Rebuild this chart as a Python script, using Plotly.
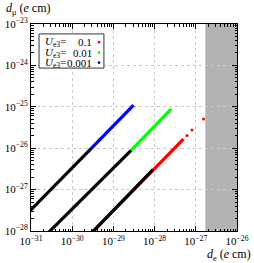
import plotly.graph_objects as go

# ---- data (log10 values) ----
# U_e3 = 0.001 (blue): black part then coloured part
blue_black_x = [10**-31.3, 10**-29.53]
blue_black_y = [10**-27.79, 10**-26.0]
blue_x = [10**-29.53, 10**-28.51]
blue_y = [10**-26.0, 10**-24.96]

# U_e3 = 0.01 (green)
green_black_x = [10**-30.7, 10**-28.57]
green_black_y = [10**-28.16, 10**-26.05]
green_x = [10**-28.57, 10**-27.595]
green_y = [10**-26.05, 10**-25.05]

# U_e3 = 0.1 (red)
red_x = [10**-29.7, 10**-27.30]
red_y = [10**-28.22, 10**-25.78]
red_black_x = [10**-29.7, 10**-28.04]
red_black_y = [10**-28.22, 10**-26.52]
red_dots_x = [10**-27.214, 10**-27.092, 10**-26.813]
red_dots_y = [10**-25.693, 10**-25.560, 10**-25.295]

DE_BOUND = 10**-26.77   # excluded region (shaded)
X_MAX = 1e-26

x_ticks = [1e-31, 1e-30, 1e-29, 1e-28, 1e-27, 1e-26]
x_tick_text = ["10<sup>−31</sup>", "10<sup>−30</sup>", "10<sup>−29</sup>",
               "10<sup>−28</sup>", "10<sup>−27</sup>", "10<sup>−26</sup>"]
y_ticks = [1e-28, 1e-27, 1e-26, 1e-25, 1e-24, 1e-23]
y_tick_text = ["10<sup>−28</sup>", "10<sup>−27</sup>", "10<sup>−26</sup>",
               "10<sup>−25</sup>", "10<sup>−24</sup>", "10<sup>−23</sup>"]

legend_labels = ["0.1", "0.01", "0.001"]
legend_colors = ["#ff0000", "#00ff00", "#0000ff"]

FONT = "Liberation Serif"
LW = 3.2

fig = go.Figure()

fig.add_trace(go.Scatter(x=red_x, y=red_y, mode="lines",
                         line=dict(color="#ff0000", width=LW), showlegend=False))
fig.add_trace(go.Scatter(x=red_black_x, y=red_black_y, mode="lines",
                         line=dict(color="black", width=LW), showlegend=False))
fig.add_trace(go.Scatter(x=red_dots_x, y=red_dots_y, mode="markers",
                         marker=dict(color="#ff0000", size=3), showlegend=False))
fig.add_trace(go.Scatter(x=green_black_x, y=green_black_y, mode="lines",
                         line=dict(color="black", width=LW), showlegend=False))
fig.add_trace(go.Scatter(x=green_x, y=green_y, mode="lines",
                         line=dict(color="#00ff00", width=LW), showlegend=False))
fig.add_trace(go.Scatter(x=blue_black_x, y=blue_black_y, mode="lines",
                         line=dict(color="black", width=LW), showlegend=False))
fig.add_trace(go.Scatter(x=blue_x, y=blue_y, mode="lines",
                         line=dict(color="#0000ff", width=LW), showlegend=False))

# shaded excluded region
fig.add_shape(type="rect", xref="x", yref="paper", x0=DE_BOUND, x1=X_MAX, y0=0, y1=1,
              fillcolor="#b3b3b3", line=dict(width=0), layer="below")

# manual legend (markers on the right of the text)
fig.add_shape(type="rect", xref="paper", yref="paper", x0=0.039, x1=0.354, y0=0.787, y1=0.952,
              fillcolor="white", line=dict(color="#333333", width=1))
row_y = [0.912, 0.862, 0.813]
for lab, col, yy in zip(legend_labels, legend_colors, row_y):
    fig.add_annotation(xref="paper", yref="paper", x=0.056, y=yy, xanchor="left", yanchor="middle",
                       text="<i>U</i><sub>e3</sub>=", showarrow=False,
                       font=dict(family=FONT, size=11, color="black"))
    fig.add_annotation(xref="paper", yref="paper", x=0.304, y=yy, xanchor="right", yanchor="middle",
                       text=lab, showarrow=False, font=dict(family=FONT, size=11, color="black"))
    fig.add_shape(type="circle", xref="paper", yref="paper",
                  x0=0.330 - 0.0065, x1=0.330 + 0.0065, y0=yy - 0.0065, y1=yy + 0.0065,
                  fillcolor=col, line=dict(width=0))

# axis titles
fig.add_annotation(xref="paper", yref="paper", x=-0.13, y=1.072, xanchor="left", yanchor="middle",
                   text="<i>d</i><sub>μ</sub> (<i>e</i> cm)", showarrow=False,
                   font=dict(family=FONT, size=12, color="black"))
fig.add_annotation(xref="paper", yref="paper", x=1.08, y=-0.115, xanchor="right", yanchor="middle",
                   text="<i>d</i><sub>e</sub> (<i>e</i> cm)", showarrow=False,
                   font=dict(family=FONT, size=12, color="black"))

axis_common = dict(type="log", showline=True, linecolor="black", linewidth=1, mirror="allticks",
                   ticks="inside", ticklen=5, tickcolor="black", tickwidth=1,
                   showgrid=True, gridcolor="#c8c8c8", griddash="dot", gridwidth=1,
                   zeroline=False, tickmode="array", automargin=False,
                   tickfont=dict(family=FONT, size=11, color="black"),
                   minor=dict(ticks="inside", ticklen=2.5, tickcolor="black", dtick="D1",
                              showgrid=False))

fig.update_xaxes(range=[-31, -26], tickvals=x_ticks, ticktext=x_tick_text, **axis_common)
fig.update_yaxes(range=[-28, -23], tickvals=y_ticks, ticktext=y_tick_text, **axis_common)

fig.update_layout(width=254, height=263, margin=dict(l=31, r=17, t=24, b=32),
                  paper_bgcolor="white", plot_bgcolor="white", showlegend=False,
                  font=dict(family=FONT))

fig.write_html("out.html", config={"displayModeBar": False},
               post_script="document.body.style.margin='0px';document.body.style.overflow='hidden';")
